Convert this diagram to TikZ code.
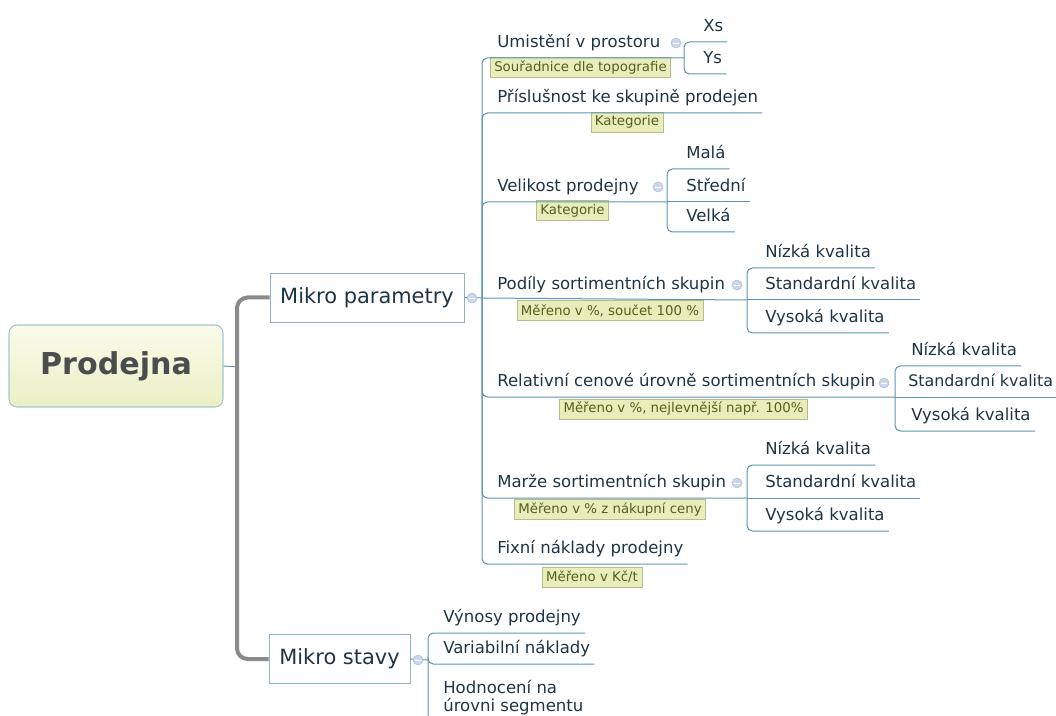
\documentclass[tikz,border=0pt]{standalone}
\usepackage{fontspec}
\setmainfont{DejaVu Sans}
\usetikzlibrary{positioning,calc}
\definecolor{mmink}{HTML}{1E3545}
\definecolor{mmline}{HTML}{5E95AE}
\definecolor{mmbox}{HTML}{8FB3C4}
\definecolor{mmtrunk}{HTML}{8A8A8A}
\definecolor{mmnotefill}{HTML}{E9EDBC}
\definecolor{mmnoteline}{HTML}{B6BC8C}
\definecolor{mmnoteink}{HTML}{55601A}
\definecolor{mmroottop}{HTML}{FBFBEC}
\definecolor{mmrootbot}{HTML}{EBEFC4}
\definecolor{mmrootline}{HTML}{A7C5CE}
\definecolor{mmrootink}{HTML}{4A4D4D}
\definecolor{mmfold}{HTML}{CCD6EE}
\definecolor{mmfoldline}{HTML}{AFBEE0}
\tikzset{
  x=0.75pt,y=-0.75pt,
  root/.style={draw=mmrootline,line width=0.8pt,rounded corners=6pt,
               top color=mmroottop,bottom color=mmrootbot,
               minimum width=160.5pt,minimum height=61.5pt,text=mmrootink,
               font=\fontsize{22.6}{27}\selectfont\bfseries},
  mainbox/.style={draw=mmbox,line width=0.6pt,fill=white,
                  minimum width=145.5pt,minimum height=36.75pt,text=mmink,
                  font=\fontsize{15.7}{19}\selectfont},
  topic/.style={anchor=south west,inner xsep=3pt,inner ysep=4.5pt,
                text height=9pt,text depth=3pt,text=mmink,
                font=\fontsize{12.4}{15.5}\selectfont},
  note/.style={draw=mmnoteline,line width=0.5pt,fill=mmnotefill,text=mmnoteink,
               inner xsep=3pt,inner ysep=0pt,minimum height=15pt,
               font=\fontsize{10}{12}\selectfont},
  fold/.style={circle,draw=mmfoldline,line width=0.4pt,fill=mmfold,
               minimum size=7.5pt,inner sep=0pt,
               path picture={\draw[white,line width=0.6pt]
                 ([xshift=-2pt]path picture bounding box.center) --
                 ([xshift=2pt]path picture bounding box.center);}},
  link/.style={draw=mmline,line width=0.75pt,rounded corners=4pt},
  trunk/.style={draw=mmtrunk,line width=3pt,rounded corners=8pt},
}
\begin{document}
\begin{tikzpicture}
  \useasboundingbox (0,0) rectangle (1056,716);
  \clip (0,0) rectangle (1056,716);

  \node[root] (prodejna) at (116,366) {Prodejna};
  \node[mainbox] (mikropar) at (367,297.5) {Mikro parametry};
  \node[mainbox,minimum width=105.75pt] (mikrostav) at (339.5,659) {Mikro stavy};

  \coordinate (hub) at (237,367);
  \coordinate (jpar) at (482,298);
  \coordinate (jstav) at (428,660);

  % mikro parametry
  \node[topic] (umisteni) at (493,58) {Umistění v prostoru};
  \node[topic] (xs) at (699,42) {Xs};
  \node[topic] (ys) at (699,74) {Ys};
  \node[topic] (prislus) at (493,113) {Příslušnost ke skupině prodejen};
  \node[topic] (velikost) at (493,202) {Velikost prodejny};
  \node[topic] (mala) at (682,169) {Malá};
  \node[topic] (stredni) at (682,202) {Střední};
  \node[topic] (velka) at (682,232) {Velká};
  \node[topic] (podily) at (493,300) {Podíly sortimentních skupin};
  \node[topic] (podnizka) at (761,268) {Nízká kvalita};
  \node[topic] (podstd) at (761,300) {Standardní kvalita};
  \node[topic] (podvys) at (761,333) {Vysoká kvalita};
  \node[topic] (relativ) at (493,397) {Relativní cenové úrovně sortimentních skupin};
  \node[topic] (relnizka) at (907,366) {Nízká kvalita};
  \node[topic,font=\fontsize{11.9}{15}\selectfont] (relstd) at (904,397) {Standardní kvalita};
  \node[topic] (relvys) at (907,431) {Vysoká kvalita};
  \node[topic] (marze) at (493,498) {Marže sortimentních skupin};
  \node[topic] (marnizka) at (761,465) {Nízká kvalita};
  \node[topic] (marstd) at (761,498) {Standardní kvalita};
  \node[topic] (marvys) at (761,531) {Vysoká kvalita};
  \node[topic] (fixni) at (493,564) {Fixní náklady prodejny};

  \node[note] (n1) at (580.5,67.5) {Souřadnice dle topografie};
  \node[note] (n2) at (627,122) {Kategorie};
  \node[note] (n3) at (572.5,210.5) {Kategorie};
  \node[note] (n4) at (610,310.5) {Měřeno v \%, součet 100 \%};
  \node[note] (n5) at (683.5,409) {Měřeno v \%, nejlevnější např. 100\%};
  \node[note] (n6) at (610,509.5) {Měřeno v \% z nákupní ceny};
  \node[note] (n7) at (592,577) {Měřeno v Kč/t};

  % mikro stavy
  \node[topic] (vynosy) at (439,633) {Výnosy prodejny};
  \node[topic] (variab) at (439,664) {Variabilní náklady};
  \node[anchor=north west,align=left,inner sep=0pt,text=mmink,
        font=\fontsize{12.4}{13.5}\selectfont] (hodnoc) at (443,680)
    {Hodnocení na\\úrovni segmentu};
  \coordinate (hodend) at (600,724);

  \coordinate (br1) at (684,58);
  \coordinate (br3) at (667,202);
  \coordinate (br4) at (747,300);
  \coordinate (br5) at (895,397);
  \coordinate (br6) at (747,498);

  \draw[link] (prodejna.east) -- (hub);
  \draw[trunk] (mikropar.west) -| (hub) |- (mikrostav.west);

  \draw[link] (mikropar.east) -- (jpar);
  \draw[link] (jpar) |- (br1);
  \draw[link] (jpar) |- (prislus.south east);
  \draw[link] (jpar) |- (br3);
  \draw[link] (jpar) -- (br4);
  \draw[link] (jpar) |- (br5);
  \draw[link] (jpar) |- (br6);
  \draw[link] (jpar) |- (fixni.south east);

  \draw[link] (br1) |- (xs.south east);
  \draw[link] (br1) |- (ys.south east);
  \draw[link] (br3) |- (mala.south east);
  \draw[link] (br3) -- (stredni.south east);
  \draw[link] (br3) |- (velka.south east);
  \draw[link] (br4) |- (podnizka.south east);
  \draw[link] (br4) -- (podstd.south east);
  \draw[link] (br4) |- (podvys.south east);
  \draw[link] (br5) |- (relnizka.south east);
  \draw[link] (br5) -- (relstd.south east);
  \draw[link] (br5) |- (relvys.south east);
  \draw[link] (br6) |- (marnizka.south east);
  \draw[link] (br6) -- (marstd.south east);
  \draw[link] (br6) |- (marvys.south east);

  \draw[link] (mikrostav.east) -- (jstav);
  \draw[link] (jstav) |- (vynosy.south east);
  \draw[link] (jstav) |- (variab.south east);
  \draw[link] (jstav) |- (hodend);

  \node[fold] at (472,298) {};
  \node[fold] at (418,660) {};
  \node[fold] at (676,43) {};
  \node[fold] at (658,187) {};
  \node[fold] at (737,285) {};
  \node[fold] at (884,383) {};
  \node[fold] at (737,483) {};
\end{tikzpicture}
\end{document}
